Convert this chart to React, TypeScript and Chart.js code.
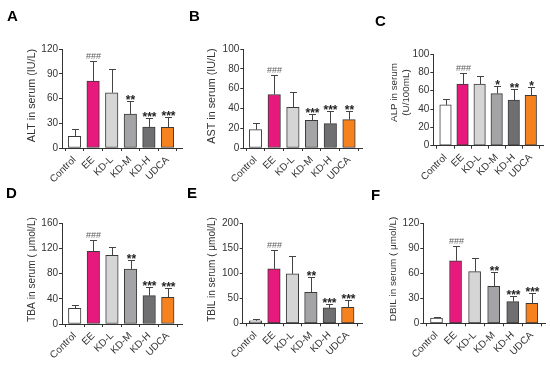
import React, { useEffect, useRef } from "react";
import { Chart, registerables } from "chart.js";

Chart.register(...registerables);

// ---------- data ----------
const categories = ["Control", "EE", "KD-L", "KD-M", "KD-H", "UDCA"];

const altMean = [14, 81, 67, 41, 25.5, 25];
const altSD = [9.5, 25, 29, 16, 10.5, 12];
const altSig = ["", "###", "", "**", "***", "***"];

const astMean = [18.6, 54, 41, 28, 24.7, 28.7];
const astSD = [7, 19.5, 16, 6.5, 12.3, 8.3];
const astSig = ["", "###", "", "***", "***", "**"];

const alpMean = [44.5, 67.3, 67.3, 56.8, 49.7, 55];
const alpSD = [6.4, 12.5, 9.1, 8.5, 12, 9.3];
const alpSig = ["", "###", "", "*", "**", "*"];

const tbaMean = [25, 115.5, 109, 87.4, 45, 42.4];
const tbaSD = [5, 18, 13, 14.6, 14, 14.3];
const tbaSig = ["", "###", "", "**", "***", "***"];

const tbilMean = [5, 109, 98.7, 62, 30.7, 32];
const tbilSD = [3.7, 37.7, 35.3, 31, 8, 14.7];
const tbilSig = ["", "###", "", "**", "***", "***"];

const dbilMean = [6.4, 75, 62, 44.4, 26, 24];
const dbilSD = [0.6, 17.4, 16, 17.6, 6.4, 12];
const dbilSig = ["", "###", "", "**", "***", "***"];

// y-axis ranges [max, step]
const altAxis = [120, 30];
const astAxis = [100, 20];
const alpAxis = [100, 20];
const tbaAxis = [160, 40];
const tbilAxis = [200, 50];
const dbilAxis = [120, 30];

// ---------- styles ----------
const barColors = ["#ffffff", "#e8197c", "#d5d5d5", "#a4a4a7", "#6f6f72", "#f5821f"];
const FONT = "'Liberation Sans', Arial, sans-serif";
const INK = "#333333";

type Panel = {
  letter: string;
  title: string[];
  titleSize: number;
  titleLine: number;
  titleCY: number;
  mean: number[];
  sd: number[];
  sig: string[];
  axis: number[];
  box: [number, number, number, number]; // canvas left, top, w, h
  axisX: number;
  topY: number;
  bottomY: number;
  rightX: number;
  firstX: number;
  lastX: number;
  barW: number;
  titleX: number;
  letterPos: [number, number];
};

const panels: Panel[] = [
  {
    letter: "A", title: ["ALT in serum (IU/L)"], titleSize: 10.8, titleLine: 12, titleCY: 95.5,
    mean: altMean, sd: altSD, sig: altSig, axis: altAxis,
    box: [0, 0, 183, 184], axisX: 62, topY: 49, bottomY: 148, rightX: 183, firstX: 74.5, lastX: 167.5,
    barW: 12.5, titleX: 32, letterPos: [7, 8],
  },
  {
    letter: "B", title: ["AST in serum (IU/L)"], titleSize: 10.8, titleLine: 12, titleCY: 96,
    mean: astMean, sd: astSD, sig: astSig, axis: astAxis,
    box: [183, 0, 182, 184], axisX: 243.3, topY: 49, bottomY: 148, rightX: 362.7, firstX: 255.5, lastX: 349,
    barW: 12.5, titleX: 212.5, letterPos: [189, 8],
  },
  {
    letter: "C", title: ["ALP in serum", "(U/100mL)"], titleSize: 9.8, titleLine: 12, titleCY: 92.5,
    mean: alpMean, sd: alpSD, sig: alpSig, axis: alpAxis,
    box: [365, 0, 185, 184], axisX: 433.3, topY: 54, bottomY: 145.7, rightX: 543, firstX: 445.5, lastX: 530.8,
    barW: 11.5, titleX: 400, letterPos: [375, 13],
  },
  {
    letter: "D", title: ["TBA in serum ( \u03bcmol/L)"], titleSize: 10.2, titleLine: 12, titleCY: 269.5,
    mean: tbaMean, sd: tbaSD, sig: tbaSig, axis: tbaAxis,
    box: [0, 184, 183, 184], axisX: 62, topY: 223.3, bottomY: 324, rightX: 182.7, firstX: 74.7, lastX: 167.8,
    barW: 12.5, titleX: 32, letterPos: [6, 185],
  },
  {
    letter: "E", title: ["TBIL in serum ( \u03bcmol/L)"], titleSize: 10, titleLine: 12, titleCY: 269.5,
    mean: tbilMean, sd: tbilSD, sig: tbilSig, axis: tbilAxis,
    box: [183, 184, 182, 184], axisX: 242.7, topY: 223.3, bottomY: 323.3, rightX: 362.7, firstX: 255.5, lastX: 347.8,
    barW: 12.5, titleX: 212.5, letterPos: [187, 185],
  },
  {
    letter: "F", title: ["DBIL in serum ( \u03bcmol/L)"], titleSize: 9.9, titleLine: 12, titleCY: 269,
    mean: dbilMean, sd: dbilSD, sig: dbilSig, axis: dbilAxis,
    box: [365, 184, 185, 184], axisX: 423.3, topY: 223.3, bottomY: 323.3, rightX: 545, firstX: 436.5, lastX: 531.8,
    barW: 12, titleX: 393.5, letterPos: [371, 187],
  },
];

function PanelChart({ p }: { p: Panel }) {
  const ref = useRef<HTMLCanvasElement | null>(null);

  useEffect(() => {
    if (!ref.current) return;
    const [bx, by, bw, bh] = p.box;
    const spacing = (p.lastX - p.firstX) / (categories.length - 1);
    const xMin = -(p.firstX - p.axisX) / spacing;
    const xMax = categories.length - 1 + (p.rightX - p.lastX) / spacing;

    const errPlugin = {
      id: "errbars" + p.letter,
      afterDraw(chart: any) {
        const { ctx } = chart;
        // y-axis title
        ctx.save();
        ctx.translate(p.titleX - bx, p.titleCY - by);
        ctx.rotate(-Math.PI / 2);
        ctx.fillStyle = INK;
        ctx.font = `${p.titleSize}px ${FONT}`;
        ctx.textAlign = "center";
        ctx.textBaseline = "middle";
        const n = p.title.length;
        p.title.forEach((line, i) => {
          ctx.fillText(line, 0, (i - (n - 1) / 2) * p.titleLine);
        });
        ctx.restore();
      },
      afterDatasetsDraw(chart: any) {
        const { ctx, scales } = chart;
        const y = scales.y;
        const meta = chart.getDatasetMeta(0);
        meta.data.forEach((bar: any, i: number) => {
          const xc = Math.round(bar.x) + 0.5;
          const yTop = Math.round(y.getPixelForValue(p.mean[i] + p.sd[i])) + 0.5;
          const yMean = bar.y;
          ctx.save();
          ctx.strokeStyle = "#444";
          ctx.lineWidth = 1;
          ctx.beginPath();
          ctx.moveTo(xc, yMean);
          ctx.lineTo(xc, yTop);
          ctx.moveTo(xc - 3.5, yTop);
          ctx.lineTo(xc + 3.5, yTop);
          ctx.stroke();
          const s = p.sig[i];
          if (s) {
            ctx.textAlign = "center";
            ctx.textBaseline = "alphabetic";
            if (s.startsWith("#")) {
              ctx.fillStyle = "#5c5c5c";
              ctx.font = `9px ${FONT}`;
              ctx.fillText(s, xc, yTop - 3);
            } else {
              ctx.fillStyle = "#222";
              ctx.font = `bold 12px ${FONT}`;
              ctx.fillText(s, xc, yTop + 2.5);
            }
          }
          ctx.restore();
        });
      },
    };

    const chart = new Chart(ref.current, {
      type: "bar",
      data: {
        datasets: [
          {
            data: p.mean.map((v, i) => ({ x: i, y: v })),
            backgroundColor: barColors,
            borderColor: "#3a3a3a",
            borderWidth: 1,
            borderSkipped: false,
            barThickness: p.barW,
          },
        ],
      },
      options: {
        responsive: false,
        animation: false,
        devicePixelRatio: 1,
        layout: {
          padding: {
            left: 0,
            top: p.topY - by,
            right: bx + bw - p.rightX,
            bottom: 0,
          },
        },
        plugins: {
          legend: { display: false },
          tooltip: { enabled: false },
        },
        scales: {
          x: {
            type: "linear",
            min: xMin,
            max: xMax,
            offset: false,
            afterBuildTicks: (scale: any) => {
              scale.ticks = categories.map((_, i) => ({ value: i }));
            },
            afterFit: (scale: any) => {
              scale.height = by + bh - p.bottomY;
            },
            ticks: {
              autoSkip: false,
              minRotation: 45,
              maxRotation: 45,
              padding: 3,
              color: INK,
              font: { family: FONT, size: 10 },
              callback: (_v: any, idx: number) => categories[idx],
            },
            grid: {
              display: true,
              drawOnChartArea: false,
              drawTicks: true,
              tickLength: 3,
              color: INK,
              lineWidth: 1,
            },
            border: { display: true, color: INK, width: 1 },
          },
          y: {
            min: 0,
            max: p.axis[0],
            afterBuildTicks: (scale: any) => {
              const t: any[] = [];
              for (let v = 0; v <= p.axis[0] + 1e-9; v += p.axis[1]) t.push({ value: v });
              scale.ticks = t;
            },
            afterFit: (scale: any) => {
              scale.width = p.axisX - bx;
            },
            ticks: {
              padding: 1,
              color: INK,
              font: { family: FONT, size: 10 },
            },
            grid: {
              display: true,
              drawOnChartArea: false,
              drawTicks: true,
              tickLength: 3,
              color: INK,
              lineWidth: 1,
            },
            border: { display: true, color: INK, width: 1 },
          },
        },
      },
      plugins: [errPlugin],
    } as any);
    return () => chart.destroy();
  }, [p]);

  const [bx, by, bw, bh] = p.box;
  return (
    <>
      <canvas
        ref={ref}
        width={bw}
        height={bh}
        style={{ position: "absolute", left: bx, top: by, width: bw, height: bh }}
      />
      <div
        style={{
          position: "absolute",
          left: p.letterPos[0],
          top: p.letterPos[1],
          font: `bold 15px ${FONT}`,
          color: "#000",
          lineHeight: "15px",
        }}
      >
        {p.letter}
      </div>
    </>
  );
}

export default function App() {
  return (
    <div
      style={{
        position: "absolute",
        left: 0,
        top: 0,
        width: 550,
        height: 368,
        background: "#fff",
        overflow: "hidden",
      }}
    >
      {panels.map((p) => (
        <PanelChart key={p.letter} p={p} />
      ))}
    </div>
  );
}
